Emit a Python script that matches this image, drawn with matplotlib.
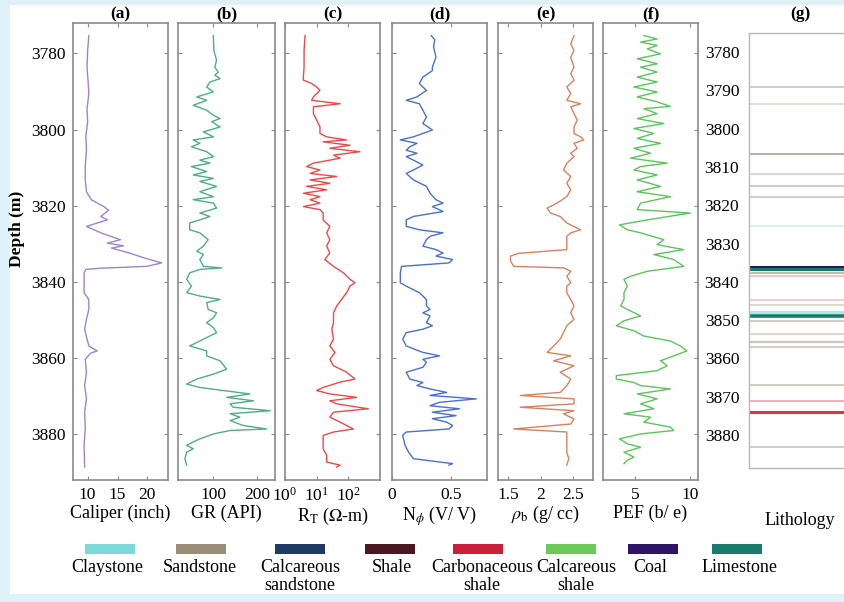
import matplotlib
matplotlib.use("Agg")
import matplotlib.pyplot as plt
from matplotlib.patches import Rectangle
from matplotlib.ticker import FormatStrFormatter

plt.rcParams['font.family'] = ['Liberation Serif', 'DejaVu Serif']
plt.rcParams['mathtext.fontset'] = 'stix'

# ---------------------------------------------------------------
# Well-log readings (depth in m, value in log units)
# ---------------------------------------------------------------
cal_depth = [3775.3, 3779.2, 3783.6, 3787.9, 3790.6, 3794.5, 3798.0, 3801.7, 3805.4, 3809.7,
             3813.2, 3816.3, 3818.4, 3820.2, 3821.2, 3822.8, 3823.7, 3825.4, 3827.1, 3828.9,
             3829.8, 3830.5, 3831.1, 3832.4, 3833.7, 3835.0, 3835.9, 3836.4, 3836.7, 3837.6,
             3841.1, 3842.8, 3844.6, 3847.2, 3849.8, 3852.4, 3855.0, 3856.8, 3858.1, 3858.7,
             3860.3, 3863.7, 3867.2, 3870.7, 3874.2, 3878.6, 3882.9, 3888.6]
cal_value = [10.2, 10.0, 9.9, 10.1, 10.2, 9.9, 10.0, 9.7, 9.8, 9.6,
             9.6, 9.8, 10.6, 12.7, 13.5, 12.2, 13.3, 9.8, 12.2, 15.5,
             13.3, 16.0, 14.0, 17.0, 19.5, 22.4, 19.9, 12.0, 9.7, 9.4,
             9.4, 9.4, 10.2, 10.2, 9.8, 9.5, 9.9, 10.2, 11.6, 10.5,
             9.6, 9.8, 9.5, 9.8, 9.5, 9.6, 9.4, 9.5]

gr_depth = [3775.3, 3779.2, 3781.8, 3783.6, 3784.9, 3785.7, 3786.6, 3787.5, 3788.8, 3790.1,
            3791.4, 3792.3, 3793.6, 3794.9, 3796.2, 3797.1, 3797.9, 3799.3, 3800.6, 3801.9,
            3802.7, 3803.6, 3804.5, 3805.8, 3807.1, 3808.0, 3808.8, 3809.7, 3811.0, 3811.9,
            3812.8, 3813.6, 3814.9, 3816.3, 3817.6, 3818.4, 3819.3, 3820.6, 3821.9, 3822.8,
            3823.7, 3824.5, 3826.3, 3827.1, 3828.9, 3830.6, 3831.9, 3832.8, 3834.1, 3835.9,
            3836.3, 3836.7, 3837.6, 3839.3, 3841.1, 3842.8, 3843.7, 3844.6, 3845.4, 3847.2,
            3848.1, 3849.4, 3850.7, 3852.0, 3853.3, 3854.6, 3856.8, 3858.1, 3859.4, 3860.7,
            3862.9, 3864.2, 3865.5, 3866.8, 3867.7, 3868.5, 3869.4, 3870.3, 3871.2, 3872.0,
            3872.9, 3873.8, 3874.6, 3875.5, 3876.4, 3877.7, 3878.6, 3879.0, 3879.9, 3881.2,
            3882.0, 3882.9, 3883.8, 3884.7, 3886.4, 3888.1]
gr_value = [99.6, 101, 107, 103, 111, 103, 115, 92, 84.5, 99.6,
            62, 84.5, 54, 84.5, 99.6, 115, 96, 115, 77, 100,
            54, 69, 50, 84.5, 100, 69, 92, 50, 84.5, 54,
            100, 69, 107, 69, 100, 54, 100, 107, 69, 92,
            69, 46, 46, 69, 88, 77, 62, 77, 69, 77,
            119, 69, 46, 39, 50, 39, 69, 115, 84.5, 88,
            107, 100, 84.5, 100, 107, 84.5, 46, 84.5, 84.5, 115,
            130, 100, 62, 39, 69, 122, 183, 130, 191, 138,
            145, 229, 138, 160, 138, 168, 221, 138, 100, 69,
            54, 39, 54, 39, 35, 39]

rt_depth = [3775.3, 3779.2, 3783.6, 3786.2, 3787.0, 3787.9, 3788.8, 3789.7, 3790.5, 3791.4,
            3792.3, 3793.2, 3794.0, 3795.8, 3797.5, 3799.3, 3801.0, 3801.9, 3802.7, 3803.2,
            3804.1, 3804.9, 3805.8, 3806.7, 3807.5, 3808.8, 3809.7, 3810.6, 3811.5, 3812.3,
            3813.2, 3814.1, 3814.9, 3815.8, 3816.7, 3817.6, 3818.4, 3819.3, 3820.2, 3821.0,
            3821.9, 3823.7, 3825.4, 3827.1, 3828.9, 3830.6, 3832.4, 3834.1, 3835.9, 3837.6,
            3839.3, 3840.2, 3841.1, 3842.8, 3846.3, 3848.1, 3850.7, 3852.4, 3855.0, 3856.8,
            3858.5, 3860.3, 3862.0, 3863.7, 3865.5, 3866.3, 3867.7, 3868.5, 3869.4, 3870.3,
            3871.2, 3872.0, 3873.3, 3874.2, 3875.5, 3876.8, 3878.6, 3879.4, 3880.3, 3882.0,
            3883.8, 3885.5, 3887.3, 3888.1, 3888.6]
rt_value = [4.3, 4.0, 4.0, 3.8, 3.8, 6.9, 10, 12.7, 10, 7.9,
            6.9, 55, 7.9, 7.9, 10, 12.7, 12.7, 20.7, 88, 16,
            113, 26, 233, 34, 55, 7.9, 4.8, 12.7, 6.2, 43,
            6.2, 26, 4.8, 20.7, 3.8, 12.7, 6.2, 12.7, 3.8, 12.7,
            16, 16, 26, 20.7, 26, 20.7, 26, 18, 34, 70,
            113, 162, 113, 88, 43, 34, 34, 30, 34, 26,
            38, 26, 34, 88, 162, 55, 16, 10, 26, 183,
            26, 43, 427, 34, 26, 55, 144, 34, 16, 16,
            16, 20.7, 20.7, 55, 43]

nphi_depth = [3775.3, 3776.4, 3778.3, 3781.0, 3783.6, 3784.5, 3786.2, 3787.9, 3789.7, 3791.4,
              3792.3, 3793.2, 3794.9, 3796.7, 3798.4, 3800.1, 3801.0, 3801.9, 3802.7, 3803.6,
              3804.5, 3805.4, 3806.2, 3807.1, 3808.0, 3809.3, 3810.6, 3811.5, 3813.2, 3814.9,
              3816.7, 3818.4, 3819.3, 3820.2, 3821.5, 3822.8, 3823.7, 3825.4, 3826.3, 3827.1,
              3828.0, 3828.9, 3830.6, 3831.5, 3832.4, 3833.2, 3834.1, 3835.0, 3835.9, 3837.6,
              3840.2, 3841.1, 3842.8, 3844.6, 3846.3, 3847.2, 3848.1, 3848.9, 3850.7, 3851.5,
              3852.4, 3853.3, 3855.0, 3856.8, 3858.5, 3859.4, 3860.3, 3861.1, 3862.4, 3863.7,
              3865.5, 3866.4, 3867.2, 3868.1, 3869.0, 3869.8, 3870.7, 3871.6, 3872.5, 3873.3,
              3874.2, 3875.1, 3875.9, 3876.8, 3877.7, 3878.6, 3879.4, 3880.3, 3882.9, 3884.7,
              3886.4, 3887.7, 3888.1]
nphi_value = [0.33, 0.36, 0.35, 0.37, 0.34, 0.34, 0.26, 0.23, 0.29, 0.21,
              0.12, 0.23, 0.26, 0.29, 0.26, 0.34, 0.26, 0.18, 0.07, 0.21,
              0.15, 0.12, 0.21, 0.12, 0.18, 0.26, 0.18, 0.12, 0.18, 0.29,
              0.32, 0.37, 0.43, 0.34, 0.43, 0.18, 0.12, 0.12, 0.23, 0.43,
              0.32, 0.29, 0.26, 0.37, 0.43, 0.37, 0.51, 0.48, 0.08, 0.07,
              0.07, 0.12, 0.23, 0.29, 0.29, 0.32, 0.26, 0.32, 0.29, 0.34,
              0.26, 0.12, 0.09, 0.12, 0.26, 0.40, 0.26, 0.29, 0.26, 0.12,
              0.15, 0.26, 0.21, 0.32, 0.46, 0.32, 0.71, 0.40, 0.32, 0.57,
              0.34, 0.54, 0.34, 0.46, 0.51, 0.48, 0.12, 0.09, 0.11, 0.14,
              0.18, 0.51, 0.48]

rhob_depth = [3775.3, 3777.5, 3779.2, 3781.0, 3783.6, 3785.3, 3787.0, 3788.8, 3790.5, 3792.3,
              3793.2, 3794.0, 3795.8, 3797.5, 3799.3, 3801.0, 3801.9, 3802.7, 3803.6, 3804.9,
              3806.2, 3807.1, 3808.8, 3810.6, 3812.3, 3814.1, 3815.8, 3817.6, 3819.3, 3820.6,
              3821.9, 3822.8, 3824.5, 3826.3, 3827.1, 3828.0, 3829.8, 3831.5, 3832.5, 3833.2,
              3834.5, 3835.9, 3836.3, 3837.2, 3838.5, 3840.2, 3841.1, 3842.8, 3844.6, 3846.3,
              3848.1, 3849.8, 3851.5, 3853.3, 3855.0, 3856.8, 3858.5, 3859.4, 3860.7, 3862.0,
              3863.7, 3865.5, 3867.2, 3869.0, 3869.8, 3870.7, 3872.0, 3872.9, 3873.8, 3874.6,
              3876.0, 3877.3, 3878.6, 3879.4, 3881.2, 3882.9, 3884.7, 3886.4, 3888.1]
rhob_value = [2.51, 2.46, 2.51, 2.46, 2.51, 2.46, 2.51, 2.40, 2.46, 2.40,
              2.61, 2.46, 2.51, 2.56, 2.51, 2.51, 2.61, 2.66, 2.51, 2.56,
              2.46, 2.51, 2.40, 2.35, 2.46, 2.40, 2.46, 2.40, 2.25, 2.10,
              2.15, 2.30, 2.40, 2.61, 2.46, 2.40, 2.40, 2.40, 1.66, 1.54,
              1.54, 1.59, 2.35, 2.46, 2.40, 2.46, 2.40, 2.40, 2.46, 2.51,
              2.46, 2.51, 2.40, 2.35, 2.30, 2.20, 2.10, 2.46, 2.20, 2.51,
              2.30, 2.46, 2.40, 2.30, 1.69, 2.51, 2.51, 1.69, 2.51, 2.35,
              2.51, 2.46, 1.59, 2.40, 2.40, 2.40, 2.40, 2.43, 2.40]

pef_depth = [3775.3, 3776.2, 3777.0, 3777.9, 3778.8, 3780.1, 3781.4, 3782.7, 3783.6, 3784.9,
             3786.2, 3787.5, 3788.8, 3790.1, 3791.4, 3792.7, 3793.9, 3794.5, 3795.8, 3797.1,
             3798.4, 3799.7, 3801.0, 3802.3, 3803.6, 3804.9, 3806.2, 3807.5, 3808.8, 3809.7,
             3810.6, 3811.9, 3813.2, 3814.9, 3816.3, 3817.6, 3819.3, 3821.0, 3821.9, 3823.7,
             3825.0, 3826.3, 3827.1, 3828.9, 3830.2, 3831.5, 3832.8, 3834.1, 3835.9, 3837.2,
             3838.5, 3839.3, 3841.1, 3842.8, 3844.6, 3846.3, 3847.2, 3848.9, 3850.2, 3851.5,
             3852.8, 3854.2, 3855.5, 3856.8, 3858.1, 3859.4, 3860.7, 3862.0, 3863.3, 3864.6,
             3865.5, 3866.4, 3867.2, 3868.1, 3869.4, 3870.7, 3872.0, 3873.3, 3874.6, 3875.5,
             3876.8, 3878.1, 3879.0, 3879.9, 3881.2, 3882.5, 3883.4, 3884.7, 3886.0, 3886.8,
             3887.7]
pef_value = [5.8, 7.0, 5.5, 7.0, 6.1, 7.3, 5.2, 7.0, 5.5, 7.0,
             5.2, 7.0, 4.9, 7.0, 5.2, 7.0, 8.2, 5.8, 7.0, 5.2,
             7.6, 4.9, 6.7, 5.2, 7.3, 4.9, 6.4, 4.6, 7.9, 5.5,
             4.9, 7.0, 5.2, 7.3, 5.2, 8.2, 5.5, 5.2, 10.0, 6.1,
             3.6, 4.3, 5.5, 7.6, 7.0, 9.4, 6.7, 8.5, 9.4, 6.1,
             4.6, 4.0, 4.3, 4.0, 4.0, 3.7, 4.3, 5.5, 4.0, 3.3,
             4.9, 5.8, 8.2, 9.1, 9.7, 8.5, 7.3, 7.9, 7.0, 3.3,
             3.3, 4.9, 5.5, 8.2, 5.2, 7.0, 5.5, 6.7, 4.0, 6.4,
             5.8, 8.2, 8.5, 5.5, 3.6, 4.3, 5.5, 4.0, 4.9, 4.3,
             4.0]

# lithology column: bed depth and rock type
litho_depth = [3789.2, 3793.6, 3806.7, 3811.7, 3815.0, 3817.7, 3825.5, 3836.1, 3836.7, 3837.6,
               3838.5, 3844.8, 3846.0, 3847.9, 3849.0, 3850.3, 3853.5, 3855.6, 3857.0, 3867.0,
               3871.0, 3874.0, 3883.0]
litho_type = ['Sandstone', 'Sandstone', 'Sandstone', 'Sandstone', 'Sandstone', 'Sandstone',
              'Claystone', 'Coal', 'Limestone', 'Sandstone', 'Carbonaceous shale',
              'Carbonaceous shale', 'Sandstone', 'Claystone', 'Limestone', 'Sandstone',
              'Sandstone', 'Sandstone', 'Sandstone', 'Sandstone', 'Carbonaceous shale',
              'Carbonaceous shale', 'Sandstone']

legend_names = ['Claystone', 'Sandstone', 'Calcareous sandstone', 'Shale',
                'Carbonaceous shale', 'Calcareous shale', 'Coal', 'Limestone']
legend_labels = ['Claystone', 'Sandstone', 'Calcareous\nsandstone', 'Shale',
                 'Carbonaceous\nshale', 'Calcareous\nshale', 'Coal', 'Limestone']
legend_colors = ['#7fd8d8', '#9a8e78', '#1f3b62', '#4a1820', '#c8203a', '#6cc858', '#2e1464', '#1a7a6c']

# ---------------------------------------------------------------
# styling
# ---------------------------------------------------------------
W, H = 844, 602
litho_lw = [1.2, 1.2, 1.3, 1.2, 1.2, 1.2, 1.2, 2.2, 2.2, 1.6, 1.2, 1.2, 1.2, 2.2, 2.6, 1.2,
            1.2, 1.6, 1.2, 1.2, 1.2, 2.2, 1.2]
litho_alpha = [0.5, 0.35, 0.75, 0.4, 0.5, 0.5, 0.4, 1.0, 1.0, 0.6, 0.3, 0.25, 0.4, 0.6, 1.0,
               0.5, 0.4, 0.5, 0.5, 0.5, 0.4, 0.9, 0.5]
frame_col = '#8a8a8a'
tick_fs = 12.5
label_fs = 13
# legend swatch centres and label centres, in pixels
swatch_cx = [110, 201, 300, 390, 478, 571, 653, 737]
text_cx = [107, 200, 300, 392, 482, 576, 650, 740]

fig = plt.figure(figsize=(W / 100, H / 100), dpi=100)
fig.patches.append(Rectangle((0, 0), 1, 1, transform=fig.transFigure,
                             facecolor='#dff2f9', edgecolor='none', zorder=-10))
fig.patches.append(Rectangle((10 / W, 8 / H), 1, 1 - 13 / H, transform=fig.transFigure,
                             facecolor='white', edgecolor='none', zorder=-9))


def px_box(x0, x1, y0, y1):
    return [x0 / W, 1 - y1 / H, (x1 - x0) / W, (y1 - y0) / H]


panels = [
    ('(a)', 72.7, 168.3, cal_value, cal_depth, '#9b86cc', (7.5, 23.5), [10, 15, 20], 'Caliper (inch)', 'linear'),
    ('(b)', 178.3, 275, gr_value, gr_depth, '#4fae86', (20, 240), [100, 200], 'GR (API)', 'linear'),
    ('(c)', 285, 380, rt_value, rt_depth, '#ea4a4a', (1, 1000), [1, 10, 100], r'R$_{\rm T}$ ($\Omega$-m)', 'log'),
    ('(d)', 392, 487, nphi_value, nphi_depth, '#4a6fd2', (0, 0.8), [0, 0.5], r'N$_{\phi}$ (V/ V)', 'linear'),
    ('(e)', 498, 593, rhob_value, rhob_depth, '#d6825e', (1.35, 2.8), [1.5, 2, 2.5], r'$\rho_{\rm b}$ (g/ cc)', 'linear'),
    ('(f)', 603, 698, pef_value, pef_depth, '#5cc45c', (2.1, 10.7), [5, 10], 'PEF (b/ e)', 'linear'),
]

for i, (tag, x0, x1, vals, dep, col, xlim, xt, xlabel, scale) in enumerate(panels):
    ax = fig.add_axes(px_box(x0, x1, 23, 480))
    ax.plot(vals, dep, color=col, linewidth=1.0)
    ax.set_xscale(scale)
    ax.set_xlim(*xlim)
    ax.set_ylim(3892, 3772)
    ax.set_xticks(xt)
    if scale == 'linear':
        ax.xaxis.set_major_formatter(FormatStrFormatter('%g'))
    ax.minorticks_off()
    ax.set_yticks([3780, 3800, 3820, 3840, 3860, 3880])
    ax.tick_params(direction='in', top=True, right=True, length=3, width=0.8,
                   color=frame_col, labelsize=tick_fs, pad=5)
    for s in ax.spines.values():
        s.set_color(frame_col)
        s.set_linewidth(1.2)
    ax.set_xlabel(xlabel, fontsize=label_fs, labelpad=1)
    if i == 0:
        ax.set_ylabel('Depth (m)', fontsize=12.5, fontweight='bold')
        ax.yaxis.set_label_coords(-0.5, 0.55)
    else:
        ax.set_yticklabels([])
    fig.text((x0 + x1) / 2 / W, 1 - 14 / H, tag, ha='center', va='center',
             fontsize=12.5, fontweight='bold')

# lithology column
axg = fig.add_axes(px_box(749, 851, 33, 468))
for d, t, lw, a in zip(litho_depth, litho_type, litho_lw, litho_alpha):
    axg.axhline(d, color=legend_colors[legend_names.index(t)], linewidth=lw, alpha=a)
axg.set_ylim(3888.6, 3775)
axg.set_xlim(0, 1)
axg.set_xticks([])
axg.set_yticks(range(3780, 3881, 10))
axg.tick_params(length=0, labelsize=tick_fs, pad=7)
for s in axg.spines.values():
    s.set_color('#b8b8b8')
    s.set_linewidth(1.0)
axg.set_xlabel('Lithology', fontsize=label_fs, labelpad=32)
fig.text(800 / W, 1 - 14 / H, '(g)', ha='center', va='center', fontsize=12.5, fontweight='bold')

# legend row
for sx, tx, lab, c in zip(swatch_cx, text_cx, legend_labels, legend_colors):
    fig.patches.append(Rectangle(((sx - 25) / W, 1 - 554 / H), 50 / W, 10 / H,
                                 transform=fig.transFigure, facecolor=c, edgecolor='none'))
    fig.text(tx / W, 1 - 559 / H, lab, ha='center', va='top', fontsize=13,
             linespacing=1.1)

fig.savefig('out.png', dpi=100)
